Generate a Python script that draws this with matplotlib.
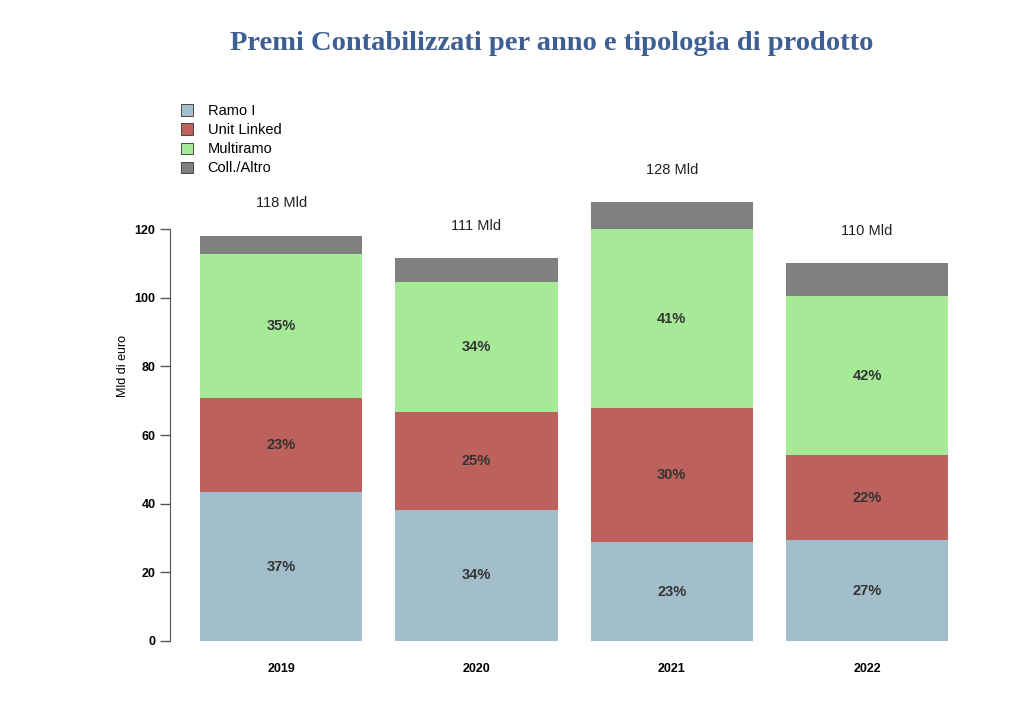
import matplotlib.pyplot as plt
import numpy as np

# Dati (mld di euro)
anni = ['2019', '2020', '2021', '2022']
ramo_i = [43.4, 38.2, 28.8, 29.4]
unit_linked = [27.4, 28.5, 39.1, 24.8]
multiramo = [41.9, 37.9, 52.1, 46.3]
coll_altro = [5.3, 6.9, 7.9, 9.6]
totali = ['118 Mld', '111 Mld', '128 Mld', '110 Mld']

perc_ramo_i = ['37%', '34%', '23%', '27%']
perc_unit = ['23%', '25%', '30%', '22%']
perc_multi = ['35%', '34%', '41%', '42%']

serie = [ramo_i, unit_linked, multiramo, coll_altro]
nomi = ['Ramo I', 'Unit Linked', 'Multiramo', 'Coll./Altro']
colori = ['#A2BECA', '#BD615D', '#A6EA98', '#808080']

plt.rcParams['font.family'] = ['Liberation Sans', 'DejaVu Sans']

fig = plt.figure(figsize=(10.24, 7.17), dpi=100)
ax = fig.add_axes([0.166, 0.106, 0.776, 0.670])

x = np.arange(len(anni))
base = np.zeros(len(anni))
barre = []
for vals, nome, col in zip(serie, nomi, colori):
    b = ax.bar(x, vals, width=0.83, bottom=base, color=col, label=nome)
    barre.append(b)
    base = base + np.array(vals)
altezze = base.copy()

# etichette percentuali al centro dei segmenti
base = np.zeros(len(anni))
for vals, etich in zip(serie[:3], [perc_ramo_i, perc_unit, perc_multi]):
    for i in range(len(anni)):
        ax.text(x[i], base[i] + vals[i] / 2, etich[i], ha='center', va='center',
                fontsize=10.5, fontweight='bold', color='#333333')
    base = base + np.array(vals)

# totali sopra le barre
for i in range(len(anni)):
    ax.text(x[i], altezze[i] + 9.5, totali[i], ha='center', va='center',
            fontsize=10.5, color='#222222')

ax.set_xlim(-0.57, 3.5)
ax.set_ylim(0, 140)
ax.set_xticks(x)
ax.set_xticklabels(anni, fontweight='bold', fontsize=9)
ax.tick_params(axis='x', length=0, pad=16)
ax.set_yticks(range(0, 121, 20))
ax.tick_params(axis='y', labelsize=9, length=7, width=1, color='#555555')
for lab in ax.get_yticklabels():
    lab.set_fontweight('bold')
ax.spines['left'].set_bounds(0, 120)
ax.spines['left'].set_color('#555555')
for s in ['top', 'right', 'bottom']:
    ax.spines[s].set_visible(False)
ax.set_ylabel('Mld di euro', fontsize=9, labelpad=0)
ax.yaxis.set_label_coords(-0.052, 0.572)

ax.legend(handles=barre, labels=nomi, loc='upper left', bbox_to_anchor=(0.007, 1.13),
          frameon=False, fontsize=10.5, handlelength=0.8, handleheight=0.8,
          labelspacing=0.35, handletextpad=1.0,
          borderaxespad=0)
for h in ax.get_legend().legend_handles:
    h.set_edgecolor('#333333')
    h.set_linewidth(0.6)

fig.text(0.539, 0.94, 'Premi Contabilizzati per anno e tipologia di prodotto',
         ha='center', va='center', fontsize=20.5, fontweight='bold',
         color='#3E5F93', family=['Liberation Serif', 'DejaVu Serif'])

fig.savefig('out.png', dpi=100)
